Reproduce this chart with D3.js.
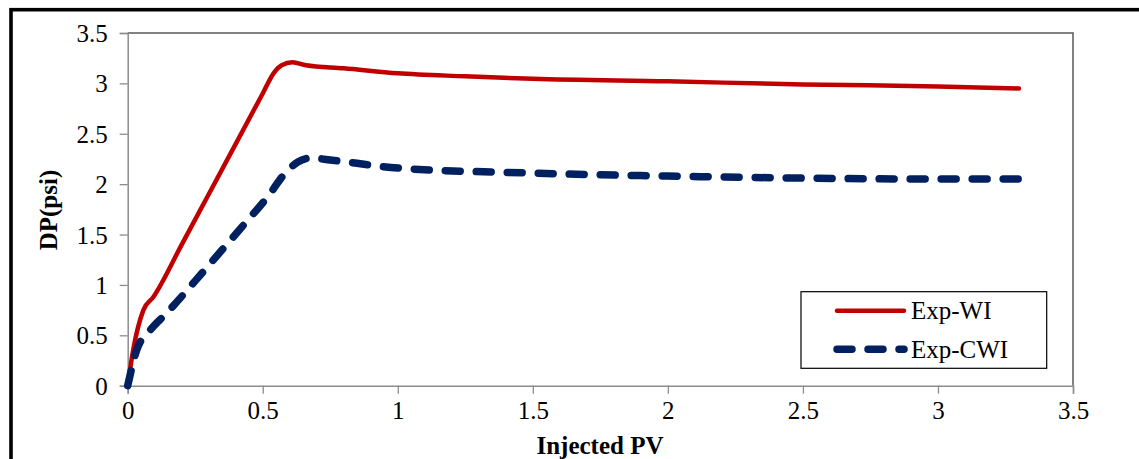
<!DOCTYPE html>
<html>
<head>
<meta charset="UTF-8">
<title>DP vs Injected PV</title>
<script src="https://cdn.jsdelivr.net/npm/d3@7"></script>
<style>
  body { margin: 0; background: #fff; }
</style>
</head>
<body>
<svg id="chart" width="1139" height="459"></svg>
<script>
// data
var pvWI  = [0, 0.02, 0.058, 0.095, 0.2, 0.3, 0.4, 0.5, 0.54, 0.57, 0.61, 0.66, 0.8, 1.0, 1.25, 1.5, 2.0, 2.5, 3.0, 3.3];
var dpWI  = [0, 0.35, 0.75, 0.88, 1.40, 1.90, 2.40, 2.90, 3.10, 3.18, 3.21, 3.18, 3.15, 3.10, 3.07, 3.045, 3.02, 2.99, 2.97, 2.95];
var pvCWI = [0, 0.033, 0.083, 0.144, 0.25, 0.35, 0.45, 0.52, 0.58, 0.63, 0.68, 0.75, 1.0, 1.5, 2.0, 2.5, 3.0, 3.3];
var dpCWI = [0, 0.35, 0.55, 0.72, 1.04, 1.35, 1.66, 1.88, 2.10, 2.22, 2.26, 2.24, 2.16, 2.11, 2.08, 2.06, 2.05, 2.05];
var xTicks = [0, 0.5, 1, 1.5, 2, 2.5, 3, 3.5];
var yTicks = [0, 0.5, 1, 1.5, 2, 2.5, 3, 3.5];
var seriesNames = ['Exp-WI', 'Exp-CWI'];

var serif = '"Liberation Serif", "Times New Roman", "DejaVu Serif", serif';
var svg = d3.select('#chart');

// outer frame (right/bottom sides fall outside the picture)
svg.append('rect')
   .attr('x', 11).attr('y', 9.7)
   .attr('width', 1200).attr('height', 600)
   .attr('fill', 'none').attr('stroke', '#000').attr('stroke-width', 3.6);

var x = d3.scaleLinear().domain([0, 3.5]).range([127.7, 1073]);
var y = d3.scaleLinear().domain([0, 3.5]).range([385.7, 33]);

// top and right plot border
svg.append('path')
   .attr('d', 'M' + x(0) + ',' + y(3.5) + 'H' + x(3.5) + 'V' + y(0))
   .attr('fill', 'none').attr('stroke', '#595959').attr('stroke-width', 1.5);

var xAxis = svg.append('g')
   .attr('transform', 'translate(0,' + y(0) + ')')
   .call(d3.axisBottom(x).tickValues(xTicks).tickSize(8).tickPadding(8)
          .tickFormat(function(d){ return String(d); }));
var yAxis = svg.append('g')
   .attr('transform', 'translate(' + x(0) + ',0)')
   .call(d3.axisLeft(y).tickValues(yTicks).tickSize(8).tickPadding(12)
          .tickFormat(function(d){ return String(d); }));

[xAxis, yAxis].forEach(function(a){
  a.attr('font-family', serif).attr('font-size', 25);
  a.select('.domain').attr('stroke', '#8c8c8c').attr('stroke-width', 1.5);
  a.selectAll('.tick line').attr('stroke', '#8c8c8c').attr('stroke-width', 1.3);
  a.selectAll('.tick text').style('font-family', serif).style('font-size', '25px').attr('fill', '#000');
});
yAxis.selectAll('.tick text').attr('dy', '0.34em');

// axis titles
svg.append('text')
   .attr('x', 600).attr('y', 454)
   .attr('text-anchor', 'middle')
   .style('font-family', serif)
   .style('font-size', '25px').style('font-weight', 'bold')
   .text('Injected PV');
svg.append('text')
   .attr('transform', 'translate(57,210) rotate(-90)')
   .attr('text-anchor', 'middle')
   .style('font-family', serif)
   .style('font-size', '25px').style('font-weight', 'bold')
   .text('DP(psi)');

var line = d3.line()
   .x(function(d){ return x(d[0]); })
   .y(function(d){ return y(d[1]); })
   .curve(d3.curveMonotoneX);

svg.append('path')
   .datum(d3.zip(pvWI, dpWI))
   .attr('d', line)
   .attr('fill', 'none').attr('stroke', '#C00000')
   .attr('stroke-width', 4.5).attr('stroke-linecap', 'round').attr('stroke-linejoin', 'round');

svg.append('path')
   .datum(d3.zip(pvCWI, dpCWI))
   .attr('d', line)
   .attr('fill', 'none').attr('stroke', '#002060')
   .attr('stroke-width', 7.5).attr('stroke-linecap', 'round')
   .attr('stroke-dasharray', '15,16');

// legend
var lg = svg.append('g');
lg.append('rect')
  .attr('x', 801).attr('y', 291.7).attr('width', 245.7).attr('height', 76.6)
  .attr('fill', '#fff').attr('stroke', '#000').attr('stroke-width', 1.2);
var legendStyles = [
  { color: '#C00000', width: 4.5, dash: null },
  { color: '#002060', width: 7.5, dash: '15,16' }
];
seriesNames.forEach(function(name, i){
  var ly = 310.7 + i * 38.6;
  lg.append('line')
    .attr('x1', 837).attr('x2', 904).attr('y1', ly).attr('y2', ly)
    .attr('stroke', legendStyles[i].color)
    .attr('stroke-width', legendStyles[i].width)
    .attr('stroke-linecap', 'round')
    .attr('stroke-dasharray', legendStyles[i].dash);
  lg.append('text')
    .attr('x', 911).attr('y', ly + 8.5)
    .style('font-family', serif)
    .style('font-size', '25px')
    .text(name);
});
</script>
</body>
</html>
